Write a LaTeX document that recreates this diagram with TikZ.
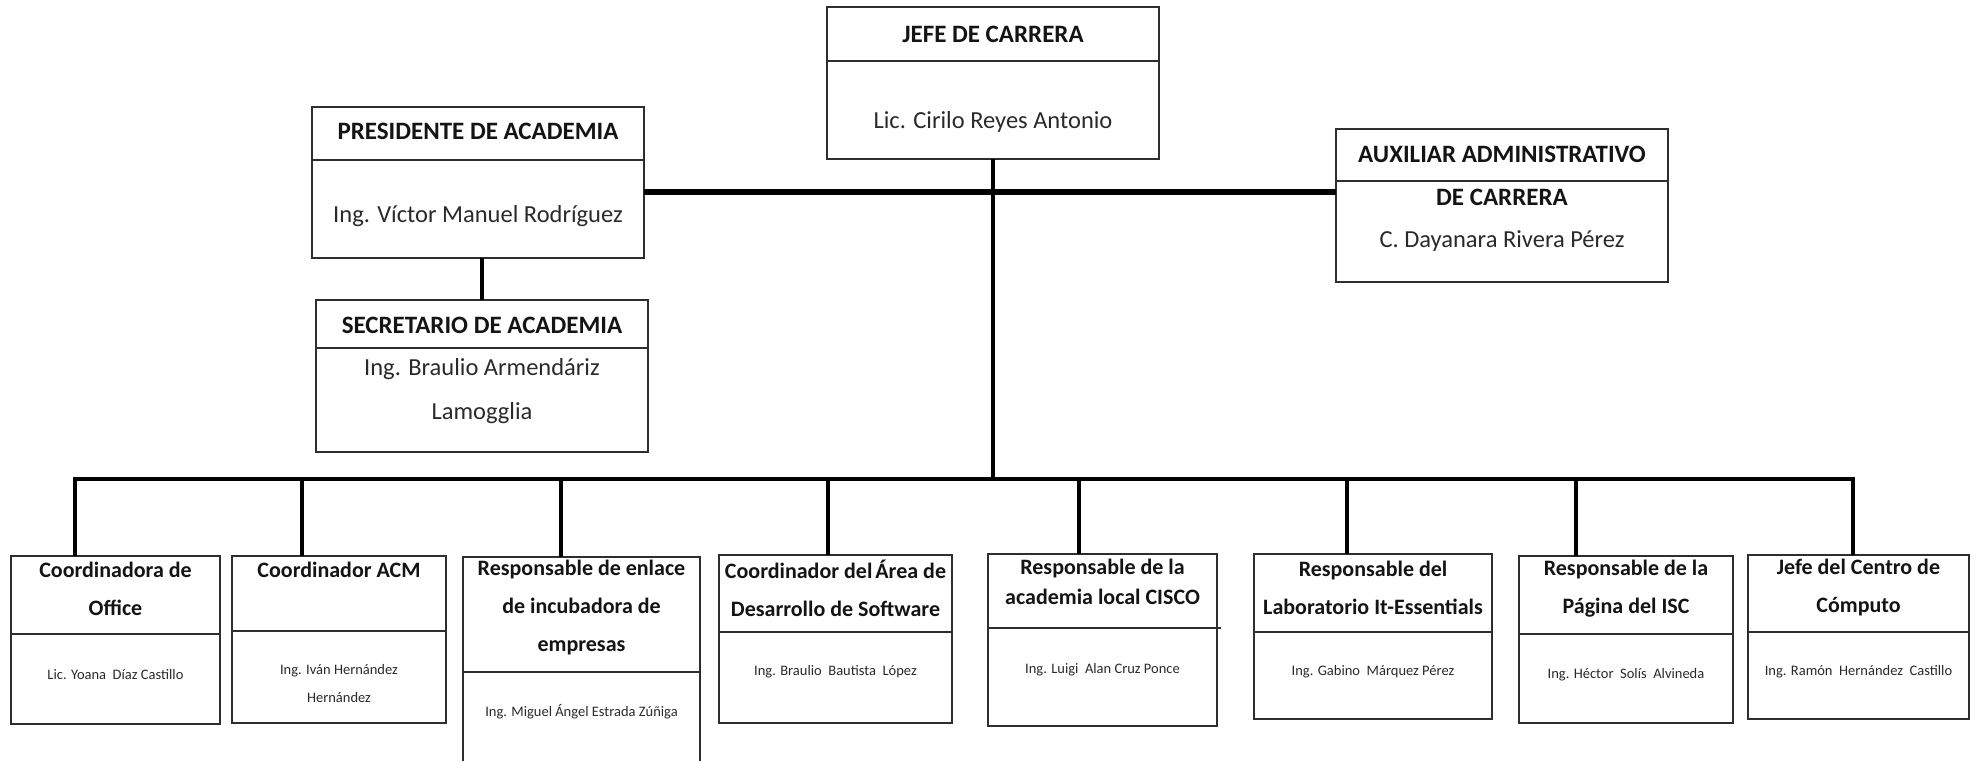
\documentclass[tikz,border=0pt]{standalone}
\usepackage{fontspec}
\setmainfont{Carlito}
\usetikzlibrary{calc}
\definecolor{boxc}{HTML}{2E2E2E}
\definecolor{txt}{HTML}{141414}
\definecolor{txtb}{HTML}{2A2A2A}
\tikzset{
  obox/.style={draw=boxc, line width=1.8pt, inner sep=0pt, outer sep=0pt, fill=white},
  odiv/.style={draw=boxc, line width=1.8pt},
  conn/.style={draw=black, line width=4pt, line join=miter},
  topconn/.style={draw=black, line width=5.5pt},
  hdbig/.style={font=\bfseries\fontsize{25}{28}\selectfont, text=txt, inner sep=0pt},
  nmbig/.style={font=\fontsize{24.5}{44}\selectfont, text=txtb, inner sep=0pt, align=center},
  hdsm/.style={font=\bfseries\fontsize{22}{38}\selectfont, align=center, inner sep=0pt, text=txt},
  hdsmt/.style={font=\bfseries\fontsize{22}{30}\selectfont, align=center, inner sep=0pt, text=txt},
  nmsm/.style={font=\fontsize{14.5}{28}\selectfont, align=center, inner sep=0pt, text=txtb},
}
% name, x1, y1, x2, y2, ydiv
\newcommand\orgbox[6]{%
  \node[obox, minimum width={(#4-#2)*1pt}, minimum height={(#5-#3)*1pt}, anchor=north west] (#1) at (#2,#3) {};
  \draw[odiv] (#2,#6) -- (#4,#6);
}
\begin{document}
\begin{tikzpicture}[x=1pt, y=-1pt]
\useasboundingbox (0,0) rectangle (1977,760);
\clip (0,0) rectangle (1977,760);
\fill[white] (0,0) rectangle (1977,760);

% upper boxes
\orgbox{jefe}{827}{7}{1159}{159}{61}
\node[hdbig] (jefe-h) at (jefe.center |- 0,34) {JEFE DE CARRERA};
\node[nmbig] (jefe-n) at (jefe.center |- 0,122) {Lic. Cirilo Reyes Antonio};

\orgbox{pres}{312}{107}{644}{258}{160}
\node[hdbig] (pres-h) at (pres.center |- 0,131) {PRESIDENTE DE ACADEMIA};
\node[nmbig] (pres-n) at (pres.center |- 0,216) {Ing. Víctor Manuel Rodríguez};

\orgbox{sec}{316}{300}{648}{452}{348}
\node[hdbig] (sec-h) at (sec.center |- 0,325) {SECRETARIO DE ACADEMIA};
\node[nmbig] (sec-n) at (sec.center |- 0,391) {Ing. Braulio Armendáriz\\Lamogglia};

\orgbox{aux}{1336}{129}{1668}{282}{181}
\node[hdbig] (aux-h) at (aux.center |- 0,154) {AUXILIAR ADMINISTRATIVO};
\node[hdbig] (aux-h2) at (aux.center |- 0,197) {DE CARRERA};
\node[nmbig] (aux-n) at (aux.center |- 0,241) {C. Dayanara Rivera Pérez};

% lower boxes
\orgbox{b1}{11}{556}{220}{724}{634}
\node[hdsm] (b1-h) at (b1.center |- 0,589) {Coordinadora de\\Office};
\node[nmsm] (b1-n) at (b1.center |- 0,675) {Lic. Yoana\ \ Díaz Castillo};

\orgbox{b2}{232}{556}{446}{723}{631}
\node[hdsm] (b2-h) at (b2.center |- 0,570) {Coordinador ACM};
\node[nmsm] (b2-n) at (b2.center |- 0,684) {Ing. Iván Hernández\\Hernández};

\orgbox{b3}{463}{557}{700}{775}{672}
\node[hdsm] (b3-h) at (b3.center |- 0,608) {Responsable de enlace\\de incubadora de\\empresas};
\node[nmsm] (b3-n) at (b3.center |- 0,712) {Ing. Miguel Ángel Estrada Zúñiga};

\orgbox{b4}{719}{555}{952}{723}{632}
\node[hdsm] (b4-h) at (b4.center |- 0,588) {Coordinador del\kern-2pt\ Área de\\Desarrollo de Software};
\node[nmsm] (b4-n) at (b4.center |- 0,672) {Ing. Braulio\ \ Bautista\ \ López};

\orgbox{b5}{988}{554}{1217}{726}{628}
\draw[odiv] (1217,628) -- (1221,628);
\node[hdsmt] (b5-h) at (b5.center |- 0,582) {Responsable de la\\academia local CISCO};
\node[nmsm] (b5-n) at (b5.center |- 0,670) {Ing. Luigi\ \ Alan Cruz Ponce};

\orgbox{b6}{1254}{554}{1492}{719}{632}
\node[hdsm] (b6-h) at (b6.center |- 0,588) {Responsable del\\Laboratorio It-Essentials};
\node[nmsm] (b6-n) at (b6.center |- 0,672) {Ing. Gabino\ \ Márquez Pérez};

\orgbox{b7}{1519}{556}{1733}{723}{634}
\node[hdsm] (b7-h) at (b7.center |- 0,589) {Responsable de la\\Página del ISC};
\node[nmsm] (b7-n) at (b7.center |- 0,675) {Ing. Héctor\ \ Solís\ \ Alvineda};

\orgbox{b8}{1748}{555}{1969}{719}{632}
\node[hdsm] (b8-h) at (b8.center |- 0,588) {Jefe del Centro de\\Cómputo};
\node[nmsm] (b8-n) at (b8.center |- 0,672) {Ing. Ramón\ \ Hernández\ \ Castillo};

% connectors
\coordinate (tb) at (993,192);
\draw[topconn] (pres.east |- tb) -- (aux.west |- tb);
\coordinate (bar) at (993,479);
\draw[conn] (jefe.south) -- (jefe.south |- bar);
\draw[conn] ([xshift=4pt]pres.south) -- ([xshift=4pt]pres.south |- sec.north);

\coordinate (d1) at (75,479);
\coordinate (d2) at (302,479);
\coordinate (d3) at (561,479);
\coordinate (d4) at (828,479);
\coordinate (d5) at (1079,479);
\coordinate (d6) at (1347,479);
\coordinate (d7) at (1576,479);
\coordinate (d8) at (1853,479);
\draw[conn] (d1 |- b1.north) -- (d1) -- (d8) -- (d8 |- b8.north);
\draw[conn] (d2) -- (d2 |- b2.north);
\draw[conn] (d3) -- (d3 |- b3.north);
\draw[conn] (d4) -- (d4 |- b4.north);
\draw[conn] (d5) -- (d5 |- b5.north);
\draw[conn] (d6) -- (d6 |- b6.north);
\draw[conn] (d7) -- (d7 |- b7.north);
\end{tikzpicture}
\end{document}
